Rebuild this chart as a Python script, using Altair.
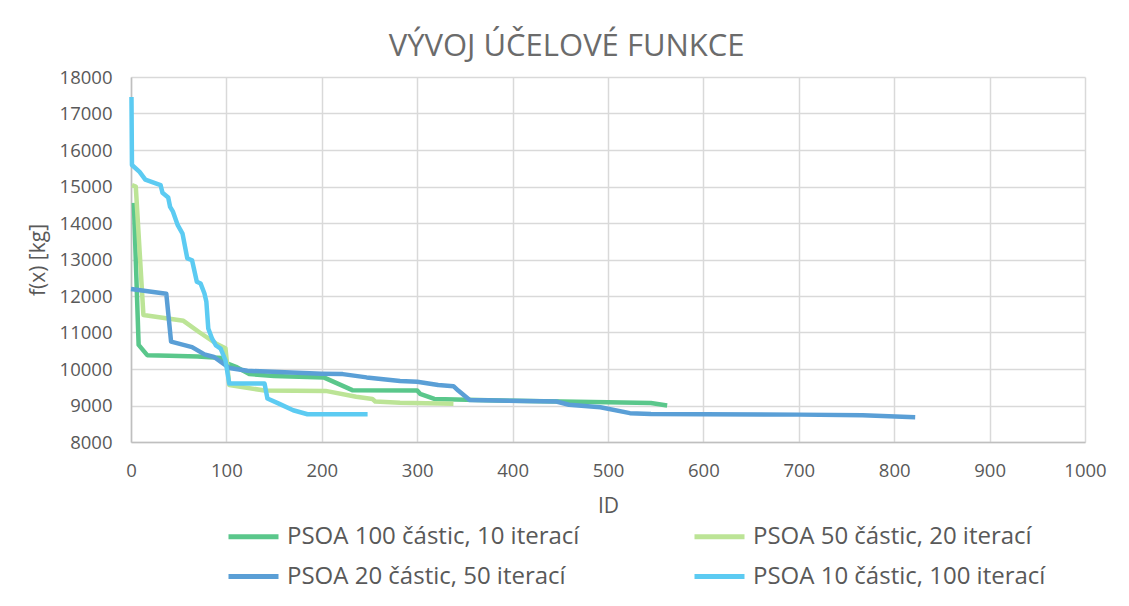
import altair as alt
import pandas as pd

# ---- data ----
series_names = [
    "PSOA 100 částic, 10 iterací",
    "PSOA 20 částic, 50 iterací",
    "PSOA 50 částic, 20 iterací",
    "PSOA 10 částic, 100 iterací",
]
series_colors = ["#5ac78b", "#5a9fd6", "#bce496", "#5ccbf2"]

s100_x = [3, 8, 17, 40, 70, 95, 100, 110, 124, 150, 202, 232, 300, 303, 318, 400, 450, 500, 545, 562]
s100_y = [14550, 10660, 10380, 10360, 10345, 10300, 10160, 10060, 9860, 9810, 9770, 9420, 9410, 9320,
          9180, 9130, 9110, 9090, 9070, 9000]

s50_x = [1, 5, 13, 55, 72, 89, 99, 103, 140, 204, 236, 253, 256, 282, 338]
s50_y = [15040, 15000, 11480, 11320, 11000, 10700, 10570, 9560, 9410, 9400, 9240, 9180, 9110, 9075, 9045]

s20_x = [0, 37, 42, 64, 77, 87, 103, 122, 200, 222, 247, 282, 300, 322, 338, 343, 355, 446, 459, 492,
         523, 545, 600, 700, 767, 822]
s20_y = [12190, 12060, 10750, 10600, 10400, 10330, 10030, 9950, 9870, 9860, 9770, 9670, 9650, 9560,
         9530, 9410, 9150, 9110, 9020, 8950, 8790, 8770, 8760, 8750, 8735, 8680]

s10_x = [0.5, 1, 9, 15, 31, 33, 39, 41, 44, 49, 54, 59, 64, 69, 73, 77, 79, 81, 85, 89, 94, 99, 103,
         140, 143, 155, 170, 185, 248]
s10_y = [17450, 15590, 15400, 15190, 15040, 14830, 14700, 14440, 14310, 13940, 13710, 13030, 12980,
         12390, 12340, 12070, 11840, 11110, 10830, 10650, 10560, 10240, 9600, 9600, 9190, 9050, 8870,
         8760, 8760]

x_ticks = list(range(0, 1001, 100))
y_ticks = list(range(8000, 18001, 1000))

series_data = {
    "PSOA 100 částic, 10 iterací": (s100_x, s100_y),
    "PSOA 50 částic, 20 iterací": (s50_x, s50_y),
    "PSOA 20 částic, 50 iterací": (s20_x, s20_y),
    "PSOA 10 částic, 100 iterací": (s10_x, s10_y),
}

rows = []
for name, (xs, ys) in series_data.items():
    for i, (xv, yv) in enumerate(zip(xs, ys)):
        rows.append({"series": name, "ID": xv, "f": yv, "i": i})
df = pd.DataFrame(rows)

FONT = "Open Sans"
GRAY = "#595959"

chart = (
    alt.Chart(df)
    .mark_line(strokeWidth=4.5, strokeCap="butt", strokeJoin="round")
    .encode(
        x=alt.X(
            "ID:Q",
            scale=alt.Scale(domain=[0, 1000], nice=False),
            axis=alt.Axis(values=x_ticks, title="ID", labelFlush=False, format="d",
                          labelPadding=19, titlePadding=16),
        ),
        y=alt.Y(
            "f:Q",
            scale=alt.Scale(domain=[8000, 18000], nice=False, zero=False),
            axis=alt.Axis(values=y_ticks, title="f(x) [kg]", format="d",
                          labelPadding=19, titlePadding=11),
        ),
        color=alt.Color(
            "series:N",
            scale=alt.Scale(domain=series_names, range=series_colors),
            legend=alt.Legend(
                title=None,
                orient="none",
                legendX=95,
                legendY=432,
                columns=2,
                columnPadding=104,
                rowPadding=-11,
                symbolType="stroke",
                symbolSize=2500,
                symbolStrokeWidth=5,
                labelFontSize=24,
                labelColor=GRAY,
                labelFont=FONT,
                labelOffset=6,
                labelLimit=0,
            ),
        ),
        detail="series:N",
        order="i:Q",
    )
    .properties(
        width=954,
        height=365,
        title=alt.TitleParams(
            "VÝVOJ ÚČELOVÉ FUNKCE",
            anchor="middle",
            frame="bounds",
            fontSize=31,
            font=FONT,
            fontWeight="normal",
            color="#6b6b6b",
            offset=5,
            limit=0,
        ),
        autosize=alt.AutoSizeParams(type="none"),
        padding={"left": 123, "top": 69, "right": 36, "bottom": 156},
    )
    .configure_view(stroke=None)
    .configure_axis(
        labelFont=FONT,
        titleFont=FONT,
        labelFontSize=18.5,
        titleFontSize=21,
        labelColor=GRAY,
        titleColor=GRAY,
        titleFontWeight="normal",
        gridColor="#d9d9d9",
        gridWidth=1.5,
        domainColor="#bfbfbf",
        domainWidth=1.5,
        ticks=False,
    )
)

chart.save("out.html", embed_options={"renderer": "svg", "actions": False})
